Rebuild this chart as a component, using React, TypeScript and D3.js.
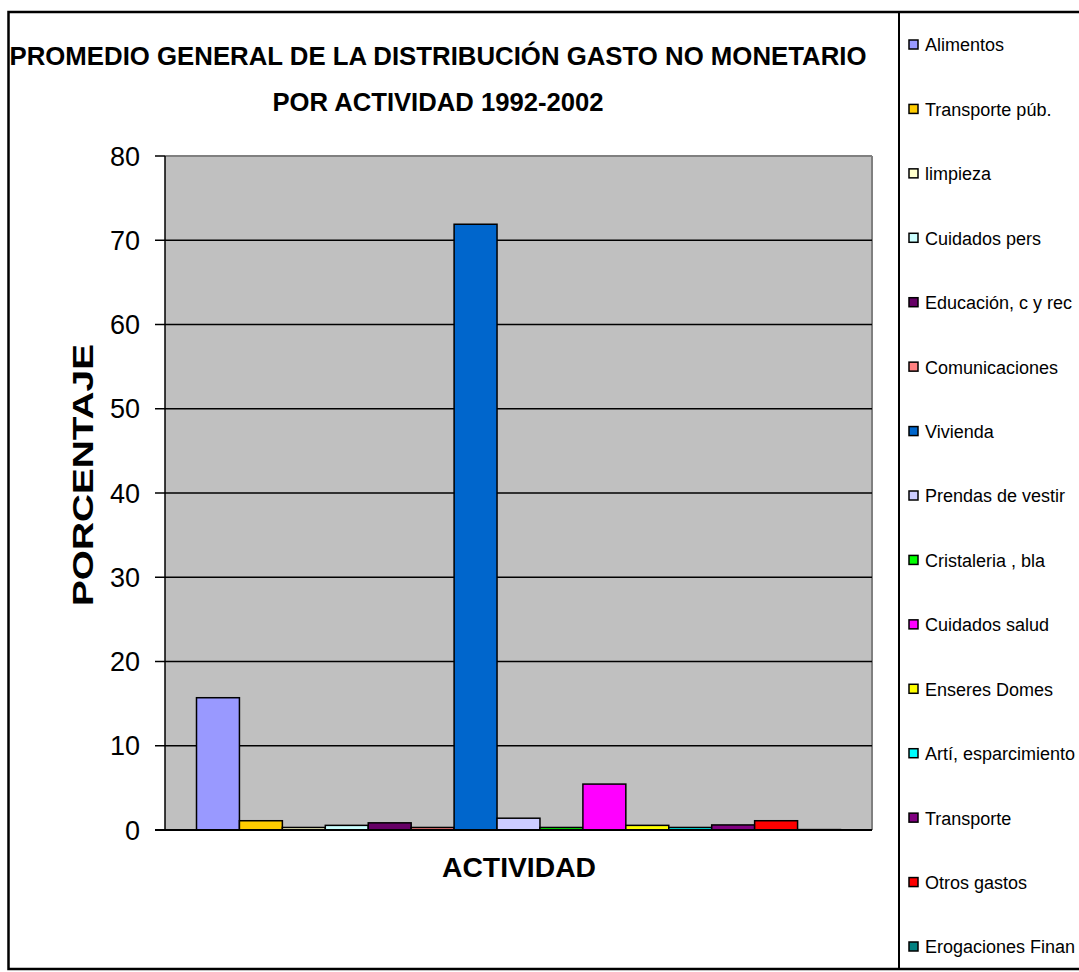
import React from "react";
import * as d3 from "d3";

const categories = [
  "Alimentos", "Transporte púb.", "limpieza", "Cuidados pers", "Educación, c y rec",
  "Comunicaciones", "Vivienda", "Prendas de vestir", "Cristaleria , bla", "Cuidados salud",
  "Enseres Domes", "Artí, esparcimiento", "Transporte", "Otros gastos", "Erogaciones Finan",
];
const values = [15.7, 1.1, 0.3, 0.55, 0.85, 0.3, 71.9, 1.4, 0.3, 5.45, 0.55, 0.3, 0.6, 1.1, 0.05];
const colors = [
  "#9999FF", "#FFCC00", "#FFFFCC", "#CCFFFF", "#660066", "#FF8080", "#0066CC", "#CCCCFF",
  "#00FF00", "#FF00FF", "#FFFF00", "#00FFFF", "#800080", "#FF0000", "#008080",
];
const yTicks = [0, 10, 20, 30, 40, 50, 60, 70, 80];

export default function App() {
  const W = 1079, H = 972;
  const left = 165, right = 872, top = 156, bottom = 830;
  const y = d3.scaleLinear().domain([0, 80]).range([bottom, top]);
  const x = d3.scaleBand().domain(categories).range([left + 31.5, right - 31.5]).padding(0);
  const legY = d3.scalePoint().domain(categories).range([45, 947]);
  const font = "'Liberation Sans', Arial, sans-serif";
  return (
    <svg width={W} height={H} style={{ position: "absolute", left: 0, top: 0 }} fontFamily={font}>
      <rect x={0} y={0} width={W} height={H} fill="#fff" />
      <rect x={8.5} y={12} width={W + 10} height={957} fill="none" stroke="#000" strokeWidth={2.5} />
      <line x1={899} x2={899} y1={12} y2={969} stroke="#000" strokeWidth={2} />
      <text x={438} y={65} textAnchor="middle" fontSize={26} fontWeight="bold"
        textLength={857} lengthAdjust="spacingAndGlyphs">
        PROMEDIO GENERAL DE LA DISTRIBUCIÓN GASTO NO MONETARIO
      </text>
      <text x={438} y={111} textAnchor="middle" fontSize={26} fontWeight="bold"
        textLength={331} lengthAdjust="spacingAndGlyphs">
        POR ACTIVIDAD 1992-2002
      </text>
      <rect x={left} y={top} width={right - left} height={bottom - top} fill="#C0C0C0" />
      <line x1={left} x2={right} y1={top} y2={top} stroke="#808080" strokeWidth={2} />
      <line x1={right} x2={right} y1={top} y2={bottom} stroke="#808080" strokeWidth={2} />
      {yTicks.filter((t) => t > 0 && t < 80).map((t) => (
        <line key={"g" + t} x1={left} x2={right} y1={y(t)} y2={y(t)} stroke="#000" strokeWidth={1.5} />
      ))}
      {categories.map((c, i) => (
        <rect key={c} x={x(c)} y={y(values[i])} width={x.bandwidth()} height={bottom - y(values[i])}
          fill={colors[i]} stroke="#000" strokeWidth={1.5} />
      ))}
      <line x1={left} x2={left} y1={top} y2={bottom} stroke="#000" strokeWidth={1.5} />
      <line x1={left - 10} x2={right} y1={bottom} y2={bottom} stroke="#000" strokeWidth={2} />
      {yTicks.map((t) => (
        <g key={"t" + t}>
          <line x1={left - 10} x2={left} y1={y(t)} y2={y(t)} stroke="#000" strokeWidth={1.5} />
          <text x={140} y={y(t)} dy="0.36em" textAnchor="end" fontSize={27}>{t}</text>
        </g>
      ))}
      <text transform="translate(93,475) rotate(-90)" textAnchor="middle" fontSize={30} fontWeight="bold"
        textLength={262} lengthAdjust="spacingAndGlyphs">
        PORCENTAJE
      </text>
      <text x={519} y={877} textAnchor="middle" fontSize={27} fontWeight="bold"
        textLength={154} lengthAdjust="spacingAndGlyphs">ACTIVIDAD</text>
      {categories.map((c, i) => (
        <g key={"l" + c}>
          <rect x={909} y={(legY(c) as number) - 5} width={9} height={9} fill={colors[i]} stroke="#000" strokeWidth={1.5} />
          <text x={925} y={legY(c) as number} dy="0.36em" fontSize={18}>{c}</text>
        </g>
      ))}
    </svg>
  );
}
